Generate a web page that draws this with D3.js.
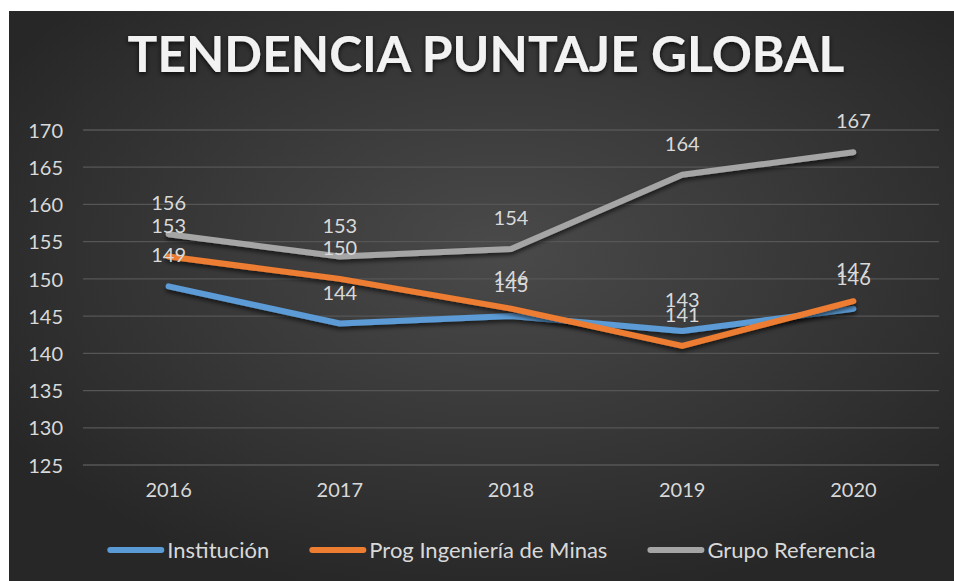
<!DOCTYPE html>
<html><head><meta charset="utf-8">
<script src="https://cdn.jsdelivr.net/npm/d3@7"></script>
<style>
html,body{margin:0;padding:0;background:#fff;}
svg{display:block;}
text{font-family:Lato,"Open Sans",sans-serif;}
</style></head>
<body>
<svg id="chart" width="954" height="581"></svg>
<script>
const years = ["2016","2017","2018","2019","2020"];
const institucion = [149,144,145,143,146];
const progMinas = [153,150,146,141,147];
const grupoRef = [156,153,154,164,167];
const seriesNames = ["Institución","Prog Ingeniería de Minas","Grupo Referencia"];
const seriesColors = ["#5B9BD5","#ED7D31","#A5A5A5"];
const yTicks = [125,130,135,140,145,150,155,160,165,170];
const title = "TENDENCIA PUNTAJE GLOBAL";

const series = [institucion, progMinas, grupoRef].map((v,i)=>({name:seriesNames[i],color:seriesColors[i],values:v}));

const svg = d3.select("#chart");
const W = 954, H = 581;
const defs = svg.append("defs");
const rg = defs.append("radialGradient").attr("id","bg").attr("cx","0.52").attr("cy","0.42").attr("r","0.62");
rg.append("stop").attr("offset","0%").attr("stop-color","#4a4a4a");
rg.append("stop").attr("offset","100%").attr("stop-color","#272727");
const f = defs.append("filter").attr("id","shadow").attr("x","-10%").attr("y","-30%").attr("width","120%").attr("height","160%");
f.append("feDropShadow").attr("dx",0).attr("dy",3).attr("stdDeviation",2).attr("flood-color","#000").attr("flood-opacity",0.6);
const tf = defs.append("filter").attr("id","tshadow").attr("x","-5%").attr("y","-30%").attr("width","110%").attr("height","160%");
tf.append("feDropShadow").attr("dx",0).attr("dy",2).attr("stdDeviation",2.5).attr("flood-color","#000").attr("flood-opacity",0.8);

svg.append("rect").attr("x",9).attr("y",11).attr("width",W-9).attr("height",H-11).attr("fill","url(#bg)");

const plot = {left:83, right:939, top:130, bottom:465};
const x = d3.scaleBand().domain(years).range([plot.left, plot.right]);
const y = d3.scaleLinear().domain([125,170]).range([plot.bottom, plot.top]);

// gridlines
svg.append("g").selectAll("line").data(yTicks).join("line")
  .attr("x1",plot.left).attr("x2",plot.right)
  .attr("y1",d=>y(d)).attr("y2",d=>y(d))
  .attr("stroke","#565656").attr("stroke-width",1.3);

// y axis
const yAxis = d3.axisLeft(y).tickValues(yTicks).tickSize(0).tickPadding(0);
const gy = svg.append("g").attr("transform","translate(63,0)").call(yAxis);
gy.select(".domain").remove();
gy.selectAll("text").attr("fill","#d9d9d9").style("font-size","20px").attr("dy","0.36em");

// x axis
const xAxis = d3.axisBottom(x).tickSize(0).tickPadding(0);
const gx = svg.append("g").attr("transform","translate(0,490)").call(xAxis);
gx.select(".domain").remove();
gx.selectAll("text").attr("fill","#d9d9d9").style("font-size","20px").attr("dy","0.36em");

// title
const tt = svg.append("text").attr("x",486).attr("y",72).attr("text-anchor","middle")
  .attr("fill","#f2f2f2").attr("font-weight",700).style("font-size","50px")
  .attr("filter","url(#tshadow)").text(title);
const tw = tt.node().getComputedTextLength();
tt.style("font-size",(50*717/tw)+"px");

// lines
const line = d3.line().x((d,i)=>x(years[i])+x.bandwidth()/2).y(d=>y(d));
svg.append("g").selectAll("path").data(series).join("path")
  .attr("d",d=>line(d.values)).attr("fill","none")
  .attr("stroke",d=>d.color).attr("stroke-width",6)
  .attr("stroke-linecap","round").attr("stroke-linejoin","round")
  .attr("filter","url(#shadow)");

// data labels
const lg = svg.append("g");
series.forEach(s=>{
  lg.selectAll(null).data(s.values).join("text")
    .attr("x",(d,i)=>x(years[i])+x.bandwidth()/2)
    .attr("y",d=>y(d)-24)
    .attr("text-anchor","middle").attr("fill","#d9d9d9").style("font-size","20px")
    .text(d=>d);
});

// legend
const leg = svg.append("g");
const lineLen = 57, gapT = 3, gapItem = 40, legY = 550;
const items = series.map(s=>{
  const t = leg.append("text").style("font-size","22px").attr("fill","#d9d9d9").attr("dy","0.36em").attr("y",legY).text(s.name);
  return {s, t, w: t.node().getComputedTextLength()};
});
const total = d3.sum(items, d=>lineLen+gapT+d.w) + gapItem*(items.length-1);
let cx = 491.5 - total/2;
items.forEach(it=>{
  leg.append("line").attr("x1",cx+3).attr("x2",cx+lineLen-3).attr("y1",legY).attr("y2",legY)
    .attr("stroke",it.s.color).attr("stroke-width",6).attr("stroke-linecap","round");
  it.t.attr("x",cx+lineLen+gapT);
  cx += lineLen+gapT+it.w+gapItem;
});
</script>
</body></html>
